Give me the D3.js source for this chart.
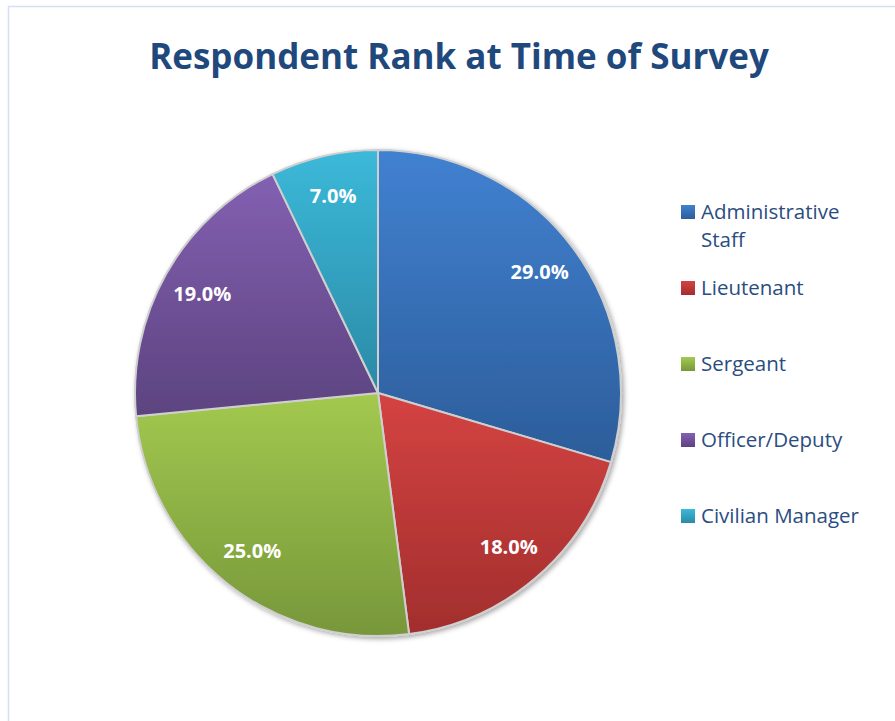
<!DOCTYPE html>
<html lang="en">
<head>
<meta charset="utf-8" />
<title>Respondent Rank at Time of Survey</title>
<script src="https://d3js.org/d3.v7.min.js"></script>
<style>
  body { margin: 0; background: #fff; }
  svg { display: block; }
</style>
</head>
<body>
<div id="chart"></div>
<script>
// data
var ranks = ["Administrative Staff", "Lieutenant", "Sergeant", "Officer/Deputy", "Civilian Manager"];
var shares = [29.0, 18.0, 25.0, 19.0, 7.0];
var legendLines = [["Administrative", "Staff"], ["Lieutenant"], ["Sergeant"], ["Officer/Deputy"], ["Civilian Manager"]];
var topColors = ["#4181d1", "#d44342", "#a3c94f", "#8360b2", "#3cb9d9"];
var bottomColors = ["#2c5d9a", "#a22e2d", "#77973a", "#5c437f", "#2a8aa6"];

var width = 895, height = 721;
var cx = 378, cy = 393, radius = 243;

var svg = d3.select("#chart").append("svg")
  .attr("width", width)
  .attr("height", height);

// chart border
svg.append("rect")
  .attr("x", 8.5).attr("y", 6.5)
  .attr("width", width + 10).attr("height", height + 10)
  .attr("fill", "none")
  .attr("stroke", "#d5e0f2")
  .attr("stroke-width", 1.5);

var defs = svg.append("defs");
ranks.forEach(function(r, i) {
  var g = defs.append("linearGradient")
    .attr("id", "grad" + i)
    .attr("x1", 0).attr("y1", 0).attr("x2", 0).attr("y2", 1);
  g.append("stop").attr("offset", "0%").attr("stop-color", topColors[i]);
  g.append("stop").attr("offset", "100%").attr("stop-color", bottomColors[i]);
});

var shadow = defs.append("filter").attr("id", "shadow")
  .attr("x", "-10%").attr("y", "-10%").attr("width", "120%").attr("height", "120%");
shadow.append("feDropShadow")
  .attr("dx", 2).attr("dy", 2).attr("stdDeviation", 2.5)
  .attr("flood-color", "#000").attr("flood-opacity", 0.35);

// title
svg.append("text")
  .attr("x", 459)
  .attr("y", 69)
  .attr("text-anchor", "middle")
  .style("font-family", "'Open Sans', sans-serif")
  .style("font-weight", "bold")
  .style("font-size", "35px")
  .style("fill", "#1f497d")
  .text("Respondent Rank at Time of Survey");

var pie = d3.pie().sort(null).value(function(d) { return d; });
var arc = d3.arc().innerRadius(0).outerRadius(radius);
var labelArc = d3.arc().innerRadius(radius * 0.83).outerRadius(radius * 0.83);

var g = svg.append("g")
  .attr("transform", "translate(" + cx + "," + cy + ")");

var arcs = pie(shares);

g.append("g").attr("filter", "url(#shadow)")
  .selectAll("path")
  .data(arcs)
  .enter()
  .append("path")
  .attr("d", arc)
  .attr("fill", function(d, i) { return "url(#grad" + i + ")"; })
  .attr("stroke", "#cfcfcf")
  .attr("stroke-width", 2)
  .attr("stroke-linejoin", "round");

g.selectAll("text.lbl")
  .data(arcs)
  .enter()
  .append("text")
  .attr("class", "lbl")
  .attr("transform", function(d) { return "translate(" + labelArc.centroid(d) + ")"; })
  .attr("text-anchor", "middle")
  .attr("dy", "0.35em")
  .style("font-family", "'Open Sans', sans-serif")
  .style("font-weight", "bold")
  .style("font-size", "20px")
  .style("fill", "#fff")
  .text(function(d) { return d.data.toFixed(1) + "%"; });

// legend
var legendY = [212, 288, 364, 440, 516];
var legend = svg.append("g");
var item = legend.selectAll("g")
  .data(ranks)
  .enter()
  .append("g")
  .attr("transform", function(d, i) { return "translate(681," + legendY[i] + ")"; });

item.append("rect")
  .attr("x", 0).attr("y", -7)
  .attr("width", 14).attr("height", 14)
  .attr("fill", function(d, i) { return "url(#grad" + i + ")"; });

item.append("text")
  .attr("x", 20)
  .attr("y", 7)
  .style("font-family", "'Open Sans', sans-serif")
  .style("font-size", "20.5px")
  .style("fill", "#2a4d7f")
  .selectAll("tspan")
  .data(function(d, i) { return legendLines[i]; })
  .enter()
  .append("tspan")
  .attr("x", 20)
  .attr("dy", function(d, j) { return j === 0 ? 0 : 28; })
  .text(function(d) { return d; });
</script>
</body>
</html>
